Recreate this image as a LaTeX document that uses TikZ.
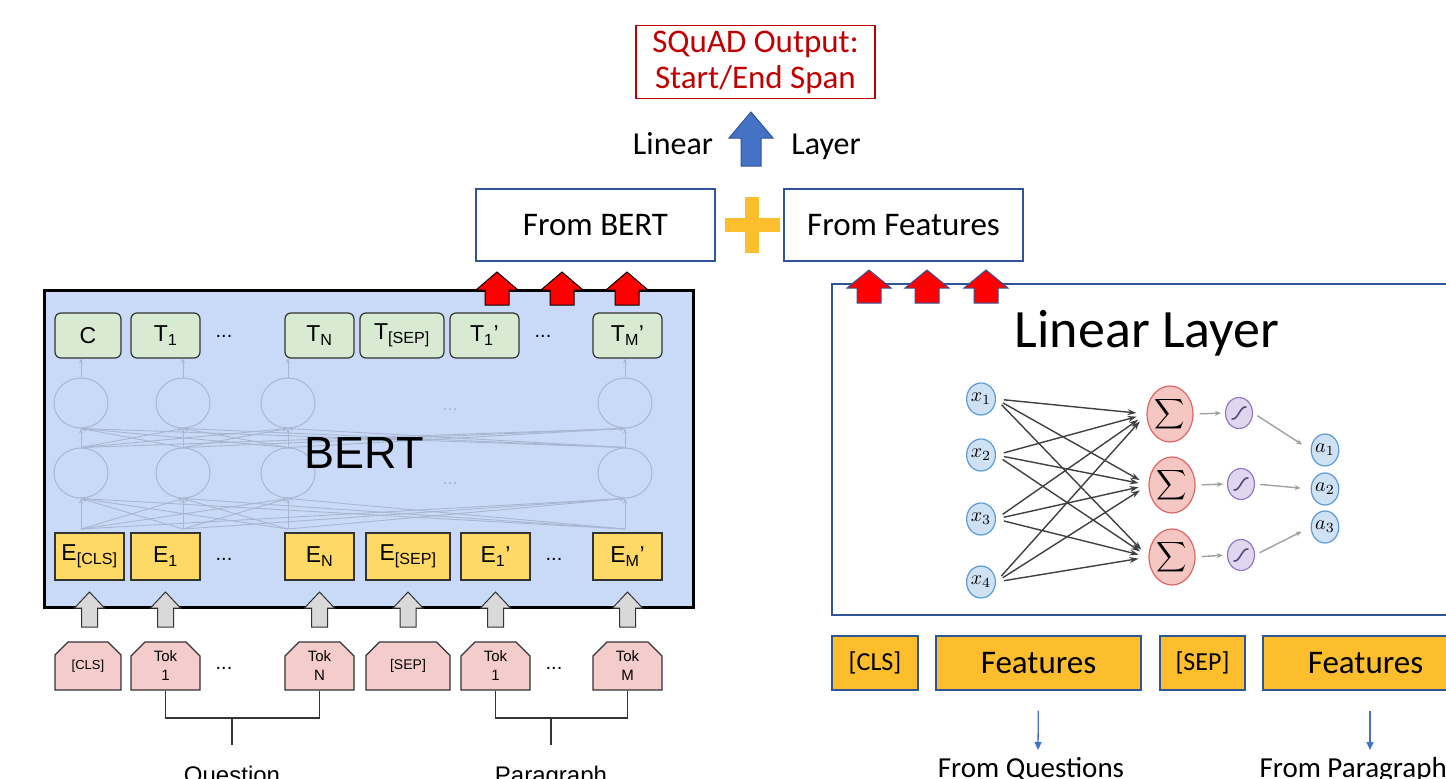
\documentclass[tikz,border=0pt]{standalone}
\usepackage{fontspec}
\setmainfont{Carlito}
\newfontfamily\arialf{Liberation Sans}
\usetikzlibrary{arrows.meta,shapes.misc,shapes.geometric,calc}
\definecolor{squadred}{RGB}{192,0,0}
\definecolor{boxblue}{RGB}{47,85,151}
\definecolor{plusyel}{RGB}{252,190,45}
\definecolor{arrblue}{RGB}{68,114,196}
\definecolor{bertbg}{RGB}{201,218,248}
\definecolor{tgreen}{RGB}{217,234,211}
\definecolor{eyellow}{RGB}{255,217,102}
\definecolor{tokpink}{RGB}{244,204,204}
\definecolor{garr}{RGB}{217,217,217}
\definecolor{darkgr}{RGB}{51,51,51}
\definecolor{faintcol}{RGB}{168,182,208}
\definecolor{xfill}{RGB}{207,226,243}
\definecolor{xdraw}{RGB}{91,155,213}
\definecolor{sfill}{RGB}{244,199,195}
\definecolor{sdraw}{RGB}{224,102,102}
\definecolor{gfill}{RGB}{225,213,240}
\definecolor{gdraw}{RGB}{142,124,195}
\definecolor{netline}{RGB}{64,64,64}
\definecolor{smallarr}{RGB}{160,160,160}
\newcommand{\blkarrow}[7]{% style, cx, ytip, ybot, headhalf, shafthalf, headh
  \draw[#1] (#2,#3) -- ({#2+#5},{#3+#7}) -- ({#2+#6},{#3+#7}) -- ({#2+#6},#4)
    -- ({#2-#6},#4) -- ({#2-#6},{#3+#7}) -- ({#2-#5},{#3+#7}) -- cycle;}
\newcommand{\mlab}[2]{\scalebox{2.0}{$#1_{#2}$}}
\newcommand{\bigsum}{\scalebox{2.1}{$\displaystyle\sum$}}
\begin{document}
\begin{tikzpicture}[x=1pt,y=-1pt,
  topbox/.style={draw=boxblue,line width=1.5pt,minimum width=239pt,minimum height=72pt,inner sep=0pt,font=\fontsize{33}{38}\selectfont},
  tbox/.style={draw=darkgr,fill=tgreen,rounded corners=6pt,line width=1.2pt,minimum height=45pt,inner sep=0pt,font=\arialf\fontsize{23}{25}\selectfont},
  ebox/.style={draw=darkgr,fill=eyellow,line width=1.2pt,minimum height=47pt,inner sep=0pt,font=\arialf\fontsize{23}{25}\selectfont},
  tokbox/.style={draw=darkgr,fill=tokpink,line width=1.2pt,minimum height=48pt,inner sep=0pt,
    chamfered rectangle,chamfered rectangle corners={north west,north east},chamfered rectangle xsep=7pt,chamfered rectangle ysep=7pt,
    align=center,font=\arialf\fontsize{15}{19}\selectfont},
  dots/.style={font=\arialf\fontsize{20}{22}\selectfont},
  faintc/.style={draw=faintcol,line width=1pt,ellipse,minimum width=54pt,minimum height=50pt,inner sep=0pt},
  faintl/.style={draw=faintcol,line width=0.9pt,-{Stealth[length=5pt,width=4pt]}},
  featbox/.style={draw=boxblue,fill=plusyel,line width=1.5pt,minimum height=54pt,inner sep=0pt},
  xnode/.style={ellipse,draw=xdraw,fill=xfill,line width=1.2pt,minimum width=27pt,minimum height=32pt,inner sep=0pt},
  snode/.style={ellipse,draw=sdraw,fill=sfill,line width=1.2pt,minimum width=46pt,minimum height=56pt,inner sep=0pt},
  gnode/.style={ellipse,draw=gdraw,fill=gfill,line width=1.2pt,minimum width=27pt,minimum height=31pt,inner sep=0pt},
  nline/.style={draw=netline,line width=1.4pt,-{Stealth[length=9pt,width=6pt]}},
  sarr/.style={draw=smallarr,line width=1.4pt,-{Stealth[length=6pt,width=5pt]}},
  brk/.style={draw=darkgr,line width=1.1pt},
  barr/.style={draw=arrblue,line width=1.3pt,-{Triangle[length=8pt,width=7pt]}}
]
\useasboundingbox (0,0) rectangle (1446,779);
\fill[white] (0,0) rectangle (1446,779);

% ---------- top ----------
\node[draw=squadred,line width=1.5pt,minimum width=239pt,minimum height=73pt,inner sep=0pt,align=center,
  text=squadred,font=\fontsize{33}{36}\selectfont] (squad) at (755.5,62) {SQuAD Output:\\Start/End Span};
\blkarrow{fill=arrblue,draw=boxblue,line width=1pt}{751}{112}{166}{22}{10}{26}
\node[anchor=base,font=\fontsize{32}{36}\selectfont] (lin) at (673,154) {Linear};
\node[anchor=base,font=\fontsize{32}{36}\selectfont] (lay) at (826,154) {Layer};
\node[topbox] (fbert) at (595.5,225) {From BERT};
\node[topbox] (ffeat) at (903.5,225) {From Features};
\fill[plusyel] (725,218) rectangle (780,232);
\fill[plusyel] (745,197) rectangle (759,253);

% ---------- BERT ----------
\draw[fill=bertbg,draw=black,line width=3pt] (44,290) rectangle (693,607);

% faint internal network
\foreach \c/\n in {81/a,183/b,288/c,625/d}{
  \node[faintc] (lo\n) at (\c,473) {};
  \node[faintc] (up\n) at (\c,403) {};
  \coordinate (in\n) at (\c,529);
}
\foreach \i in {a,b,c,d}{
  \foreach \j in {a,b,c,d}{
    \draw[faintl] (in\i) -- (lo\j.south);
    \draw[faintl] (lo\i.north) -- (up\j.south);
  }
}
\node[font=\arialf\fontsize{18}{20}\selectfont,text=faintcol] (fd1) at (450,410) {...};
\node[font=\arialf\fontsize{18}{20}\selectfont,text=faintcol] (fd2) at (450,484) {...};

\node[font=\arialf\fontsize{45}{50}\selectfont] (bert) at (364,453) {BERT};

% T row
\node[tbox,minimum width=66pt] (tc) at (88,335.5) {C};
\node[tbox,minimum width=69pt] (t1) at (165.5,335.5) {T\textsubscript{1}};
\node[dots] (td1) at (224,336) {...};
\node[tbox,minimum width=69pt] (tn) at (319.5,335.5) {T\textsubscript{N}};
\node[tbox,minimum width=84pt] (tsep) at (402,335.5) {T\textsubscript{[SEP]}};
\node[tbox,minimum width=69pt] (t1p) at (484.5,335.5) {T\textsubscript{1}’};
\node[dots] (td2) at (543,336) {...};
\node[tbox,minimum width=69pt] (tmp) at (627.5,335.5) {T\textsubscript{M}’};
\foreach \n/\t in {a/tc,b/t1,c/tn,d/tmp}{
  \draw[faintl] (up\n.north) -- (up\n.north |- \t.south);
}

% E row
\node[ebox,minimum width=69pt] (ecls) at (89.5,556.5) {E\textsubscript{[CLS]}};
\node[ebox,minimum width=69pt] (e1) at (165.5,556.5) {E\textsubscript{1}};
\node[dots] (ed1) at (224,559) {...};
\node[ebox,minimum width=69pt] (en) at (319.5,556.5) {E\textsubscript{N}};
\node[ebox,minimum width=84pt] (esep) at (408,556.5) {E\textsubscript{[SEP]}};
\node[ebox,minimum width=69pt] (e1p) at (495.5,556.5) {E\textsubscript{1}’};
\node[dots] (ed2) at (554,559) {...};
\node[ebox,minimum width=69pt] (emp) at (627.5,556.5) {E\textsubscript{M}’};

% red arrows on BERT
\foreach \cx in {497,562,627}{
  \blkarrow{fill=red,draw=black,line width=1pt}{\cx}{272}{305}{21}{12}{18}
}

% gray input arrows
\foreach \cx in {89.5,165.5,319.5,408,495.5,627.5}{
  \blkarrow{fill=garr,draw=darkgr,line width=1pt}{\cx}{592}{627}{15}{8}{16}
}

% token row
\node[tokbox,minimum width=66pt,font=\arialf\fontsize{13}{16}\selectfont] (tokcls) at (88,666) {[CLS]};
\node[tokbox,minimum width=69pt] (tok1) at (165.5,666) {Tok\\1};
\node[dots] (kd1) at (224,668) {...};
\node[tokbox,minimum width=69pt] (tokn) at (319.5,666) {Tok\\N};
\node[tokbox,minimum width=84pt,font=\arialf\fontsize{14}{16}\selectfont] (toksep) at (408,666) {[SEP]};
\node[tokbox,minimum width=69pt] (tokp1) at (495.5,666) {Tok\\1};
\node[dots] (kd2) at (554,668) {...};
\node[tokbox,minimum width=69pt] (tokm) at (627.5,666) {Tok\\M};

\coordinate (qj) at (232,718);
\coordinate (pj) at (551,718);
\node[anchor=base,font=\arialf\fontsize{24}{28}\selectfont] (qlab) at (232,783) {Question};
\node[anchor=base,font=\arialf\fontsize{24}{28}\selectfont] (plab) at (551,783) {Paragraph};
\draw[brk] (tok1.south) |- (qj) -| (tokn.south);
\draw[brk] (tokp1.south) |- (pj) -| (tokm.south);
\draw[brk] (qj) -- ++(0,27);
\draw[brk] (pj) -- ++(0,27);

% ---------- right: linear layer ----------
\draw[draw=boxblue,line width=1.5pt,fill=white] (832,284) rectangle (1470,615);
\foreach \cx in {869,927,986}{
  \blkarrow{fill=red,draw=boxblue,line width=1pt}{\cx}{270}{303}{22}{12}{18}
}
\node[font=\fontsize{54}{60}\selectfont] (lltitle) at (1147,333) {Linear Layer};

\node[xnode] (x1) at (981,399) {\mlab{x}{1}};
\node[xnode] (x2) at (981,455) {\mlab{x}{2}};
\node[xnode] (x3) at (981,519) {\mlab{x}{3}};
\node[xnode] (x4) at (981,582) {\mlab{x}{4}};
\node[snode] (s1) at (1170,414) {\bigsum};
\node[snode] (s2) at (1172,485) {\bigsum};
\node[snode] (s3) at (1172,557) {\bigsum};
\node[gnode] (g1) at (1239,413) {};
\node[gnode] (g2) at (1241,484) {};
\node[gnode] (g3) at (1241,555) {};
\foreach \g in {g1,g2,g3}{
  \draw[draw=gdraw!60!black,line width=1.6pt,line cap=round] ($(\g)+(-7,6)$) .. controls ($(\g)+(-1,7)$) and ($(\g)+(1,-7)$) .. ($(\g)+(7,-6)$);
}
\node[xnode] (a1) at (1325,450) {\mlab{a}{1}};
\node[xnode] (a2) at (1325,489) {\mlab{a}{2}};
\node[xnode] (a3) at (1325,527) {\mlab{a}{3}};

\foreach \x in {x1,x2,x3,x4}{
  \foreach \s in {s1,s2,s3}{
    \draw[nline,shorten <=8pt,shorten >=10pt] (\x.east) -- (\s.west);
  }
}
\draw[sarr,shorten <=6pt,shorten >=4pt] (s1.east) -- (g1.west);
\draw[sarr,shorten <=6pt,shorten >=4pt] (s2.east) -- (g2.west);
\draw[sarr,shorten <=6pt,shorten >=4pt] (s3.east) -- (g3.west);
\draw[sarr,shorten <=5pt,shorten >=10pt] (g1.east) -- (a1.west);
\draw[sarr,shorten <=5pt,shorten >=10pt] (g2.east) -- (a2.west);
\draw[sarr,shorten <=5pt,shorten >=10pt] (g3.east) -- (a3.west);

% bottom feature row
\node[featbox,minimum width=86pt,font=\fontsize{26}{30}\selectfont] (fcls) at (875,663) {[CLS]};
\node[featbox,minimum width=205pt,font=\fontsize{33}{38}\selectfont] (feat1) at (1038.5,663) {Features};
\node[featbox,minimum width=85pt,font=\fontsize{26}{30}\selectfont] (fsep) at (1202.5,663) {[SEP]};
\node[featbox,minimum width=205pt,font=\fontsize{33}{38}\selectfont] (feat2) at (1365.5,663) {Features};

\node[anchor=base,font=\fontsize{29}{34}\selectfont] (fq) at (1031,777) {From Questions};
\node[anchor=base west,font=\fontsize{29}{34}\selectfont] (fp) at (1256,777) {From Paragraph};
\coordinate (fqa) at (1038,750);
\coordinate (fpa) at (1370,750);
\draw[barr,shorten <=20pt] (feat1.south) -- (fqa);
\draw[barr,shorten <=20pt] (feat1.south -| fpa) -- (fpa);
\end{tikzpicture}
\end{document}
